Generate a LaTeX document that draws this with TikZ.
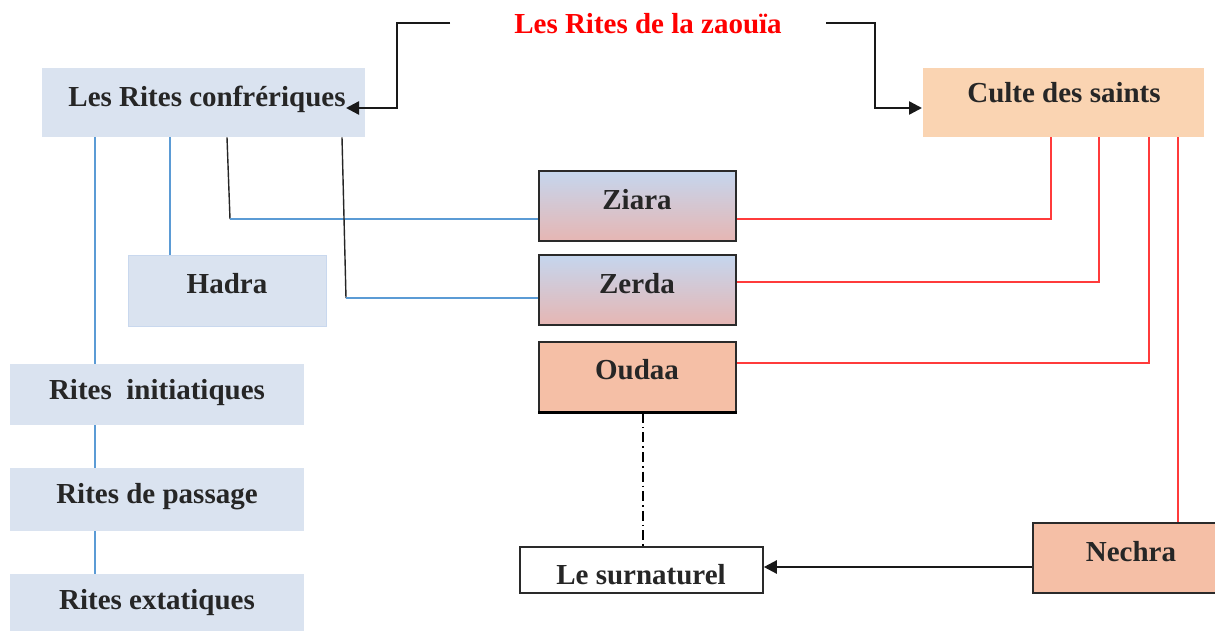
\documentclass[tikz,border=0pt]{standalone}
\usepackage{fontspec}
\setmainfont{Liberation Serif}
\usetikzlibrary{arrows.meta}
\definecolor{lblue}{HTML}{DAE3F0}
\definecolor{lblueb}{HTML}{C9D8EE}
\definecolor{peach}{HTML}{FAD4B2}
\definecolor{salmon}{HTML}{F5BFA6}
\definecolor{gtop}{HTML}{C5D6EE}
\definecolor{gbot}{HTML}{E6B6B3}
\definecolor{txt}{HTML}{262626}
\definecolor{lineblue}{HTML}{5B9BD5}
\definecolor{linered}{HTML}{FF3B3B}
\definecolor{bord}{HTML}{2A2A2A}
\tikzset{
  box/.style={draw=none, inner sep=0pt, rectangle},
  lbox/.style={box, fill=lblue},
  gbox/.style={box, draw=bord, line width=1pt, top color=gtop, bottom color=gbot},
  sbox/.style={box, draw=bord, line width=0.8pt, fill=salmon},
  lab/.style={anchor=base, font=\bfseries\fontsize{14.5}{16}\selectfont, text=txt, inner sep=0pt},
  bl/.style={draw=lineblue, line width=0.8pt},
  rd/.style={draw=linered, line width=0.8pt},
  bk/.style={draw=black!85, line width=0.7pt},
  arr/.style={draw=black!90, line width=1.2pt, -{Triangle[length=6.5pt,width=6.5pt]}},
}
\begin{document}
\begin{tikzpicture}[x=0.5pt,y=-0.5pt]
\useasboundingbox (0,0) rectangle (1215,631);
% boxes
\node[lbox, minimum width=161.5pt, minimum height=34.5pt] (conf) at (203.5,102.5) {};
\node[box, fill=peach, minimum width=140.5pt, minimum height=34.5pt] (culte) at (1063.5,102.5) {};
\node[lbox, draw=lblueb, line width=0.5pt, minimum width=99pt, minimum height=35.5pt] (hadra) at (227,290.5) {};
\node[gbox, minimum width=98.5pt, minimum height=35pt] (ziara) at (637.5,206) {};
\node[gbox, minimum width=98.5pt, minimum height=35pt] (zerda) at (637.5,290) {};
\node[sbox, minimum width=98.5pt, minimum height=35pt] (oudaa) at (637.5,377) {};
\node[box, draw=bord, line width=0.8pt, fill=white, minimum width=121.5pt, minimum height=23pt] (surn) at (641.5,570) {};
\node[sbox, minimum width=92pt, minimum height=35pt] (nechra) at (1125,558) {};
\node[lbox, minimum width=147pt, minimum height=30.5pt] (init) at (157,394.5) {};
\node[lbox, minimum width=147pt, minimum height=31.5pt] (pass) at (157,499.5) {};
\node[lbox, minimum width=147pt, minimum height=30.5pt] (ext) at (157,604.5) {};
\draw[line width=1.6pt, draw=black] (oudaa.south west) -- (oudaa.south east);
% labels
\node[lab, text=red] (title) at (648,34) {Les Rites de la zaouïa};
\node[lab] (conf-t) at (207,106) {Les Rites confrériques};
\node[lab] (culte-t) at (1064,103) {Culte des saints};
\node[lab] (hadra-t) at (227,293) {Hadra};
\node[lab] (ziara-t) at (637,209) {Ziara};
\node[lab] (zerda-t) at (637,293) {Zerda};
\node[lab] (oudaa-t) at (637,379) {Oudaa};
\node[lab] (surn-t) at (641,584) {Le surnaturel};
\node[lab] (nechra-t) at (1131,561) {Nechra};
\node[lab] (init-t) at (157,399) {Rites\ \ initiatiques};
\node[lab] (pass-t) at (157,503) {Rites de passage};
\node[lab] (ext-t) at (157,609) {Rites extatiques};
% coordinates
\coordinate (tl) at (450,23);
\coordinate (tr) at (826,23);
\coordinate (confin) at (346,108);
\coordinate (cultein) at (922,108);
\coordinate (x95) at (95,0);
\coordinate (x170) at (170,0);
\coordinate (x227) at (227,0);
\coordinate (j1) at (230,219);
\coordinate (x342) at (342,0);
\coordinate (j2) at (346,298);
\coordinate (x1051) at (1051,0);
\coordinate (x1099) at (1099,0);
\coordinate (x1149) at (1149,0);
\coordinate (x1178) at (1178,0);
\coordinate (y282) at (0,282);
\coordinate (y363) at (0,363);
\coordinate (x643) at (643,0);
\coordinate (y567) at (0,567);
% top arrows
\draw[arr] (tl) -- (397,23) -- (397,108) -- (confin);
\draw[arr] (tr) -- (875,23) -- (875,108) -- (cultein);
% blue from confreriques
\draw[bl] (x95 |- conf.south) -- (x95 |- init.north);
\draw[bl] (x95 |- init.south) -- (x95 |- pass.north);
\draw[bl] (x95 |- pass.south) -- (x95 |- ext.north);
\draw[bl] (x170 |- conf.south) -- (x170 |- hadra.north);
\draw[bk] (x227 |- conf.south) -- (j1);
\draw[bl] (j1) -- (j1 -| ziara.west);
\draw[bk] (x342 |- conf.south) -- (j2);
\draw[bl] (j2) -- (j2 -| zerda.west);
% red from culte
\draw[rd] (x1051 |- culte.south) -- (x1051 |- j1) -- (j1 -| ziara.east);
\draw[rd] (x1099 |- culte.south) -- (x1099 |- y282) -- (y282 -| zerda.east);
\draw[rd] (x1149 |- culte.south) -- (x1149 |- y363) -- (y363 -| oudaa.east);
\draw[rd] (x1178 |- culte.south) -- (x1178 |- nechra.north);
% oudaa to surnaturel
\draw[draw=black, line width=0.7pt, dash pattern=on 5pt off 2pt on 0.8pt off 2pt] (x643 |- oudaa.south) -- (x643 |- surn.north);
% nechra to surnaturel
\draw[arr] (y567 -| nechra.west) -- (y567 -| surn.east);
\end{tikzpicture}
\end{document}
